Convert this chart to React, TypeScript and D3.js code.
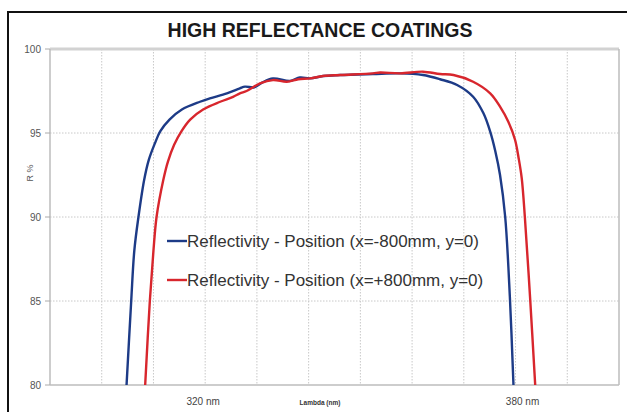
import React, { useEffect, useRef } from 'react';
import * as d3 from 'd3';

const wavelengthsNeg = [304.8, 305.7, 306.3, 307.1, 308.2, 309.1, 310.3, 311.3, 313.1, 315.5, 319.0, 320.9, 324.2, 326.7, 327.7, 329.5, 331.0, 333.1, 336.4, 338.3, 340.3, 342.8, 346.1, 352.4, 357.7, 362.1, 365.4, 368.7, 371.8, 373.8, 375.1, 376.1, 377.0, 378.0, 378.9, 379.6];
const reflNeg = [80, 85, 88, 90, 92.2, 93.4, 94.4, 95.1, 95.8, 96.4, 96.86, 97.06, 97.36, 97.66, 97.76, 97.72, 98.0, 98.25, 98.1, 98.3, 98.25, 98.39, 98.45, 98.51, 98.55, 98.45, 98.2, 97.86, 97.16, 96.17, 95.08, 93.9, 92.5, 90.0, 85.25, 80];

const wavelengthsPos = [308.4, 309.3, 310.0, 310.6, 311.9, 312.8, 314.0, 315.4, 317.1, 319.6, 322.9, 325.4, 326.7, 328.0, 330.6, 333.1, 335.8, 338.0, 340.3, 342.8, 346.1, 352.4, 353.8, 357.7, 362.1, 365.4, 368.0, 371.8, 375.1, 377.0, 378.6, 379.9, 380.6, 381.2, 381.8, 382.8, 383.8];
const reflPos = [80, 85, 88, 90, 92.2, 93.3, 94.3, 95.1, 95.8, 96.4, 96.86, 97.15, 97.36, 97.5, 97.95, 98.15, 98.05, 98.2, 98.25, 98.39, 98.45, 98.55, 98.6, 98.55, 98.65, 98.51, 98.45, 98.05, 97.36, 96.57, 95.67, 94.6, 93.5, 92.3, 90.0, 85.25, 80];

const yTicks = [80, 85, 90, 95, 100];
const xGrid = [300, 310, 320, 330, 340, 350, 360, 370, 380, 390];
const xLabels = [320, 380];
const seriesNames = ['Reflectivity - Position (x=-800mm, y=0)', 'Reflectivity - Position (x=+800mm, y=0)'];
const seriesColors = ['#1d3b87', '#d8262d'];

export default function App() {
  const svgRef = useRef<SVGSVGElement>(null);

  useEffect(() => {
    if (!svgRef.current) return;
    const width = 627;
    const height = 412;
    const left = 50, right = 619, top = 49, bottom = 385;
    const font = 'Liberation Sans, Arial, sans-serif';

    const svg = d3.select(svgRef.current);
    svg.selectAll('*').remove();

    svg.append('rect').attr('width', width).attr('height', height).attr('fill', '#fff');

    // outer black frame (runs off the right / bottom edge)
    svg.append('rect')
      .attr('x', 8).attr('y', 12).attr('width', 640).attr('height', 420)
      .attr('fill', 'none').attr('stroke', '#111').attr('stroke-width', 2);

    svg.append('text')
      .attr('x', 320).attr('y', 37)
      .attr('text-anchor', 'middle')
      .attr('font-family', font)
      .attr('font-weight', 'bold')
      .attr('font-size', 19.5)
      .attr('fill', '#1a1a1a')
      .text('HIGH REFLECTANCE COATINGS');

    const x = d3.scaleLinear().domain([290, 400]).range([left, right]);
    const y = d3.scaleLinear().domain([80, 100]).range([bottom, top]);

    // gridlines
    const grid = svg.append('g').attr('stroke', '#c8c8c8').attr('stroke-width', 1).attr('stroke-dasharray', '1.5,1.5');
    grid.selectAll('line.v').data(xGrid).join('line')
      .attr('x1', d => x(d)).attr('x2', d => x(d)).attr('y1', top).attr('y2', bottom);
    grid.selectAll('line.h').data(yTicks.filter(t => t > 80 && t < 100)).join('line')
      .attr('x1', left).attr('x2', right).attr('y1', d => y(d)).attr('y2', d => y(d));

    // plot border
    svg.append('line').attr('x1', left).attr('x2', right).attr('y1', top).attr('y2', top)
      .attr('stroke', '#d2d2d2').attr('stroke-width', 3);
    svg.append('line').attr('x1', right).attr('x2', right).attr('y1', top).attr('y2', bottom)
      .attr('stroke', '#bdbdbd').attr('stroke-width', 1.5);
    svg.append('line').attr('x1', left).attr('x2', right).attr('y1', bottom).attr('y2', bottom)
      .attr('stroke', '#bdbdbd').attr('stroke-width', 1.5);
    svg.append('line').attr('x1', left).attr('x2', left).attr('y1', top).attr('y2', bottom)
      .attr('stroke', '#bdbdbd').attr('stroke-width', 1.5);

    // y ticks
    const yt = svg.append('g');
    yt.selectAll('line').data(yTicks).join('line')
      .attr('x1', left - 5).attr('x2', left).attr('y1', d => y(d)).attr('y2', d => y(d))
      .attr('stroke', '#aaa');
    yt.selectAll('text').data(yTicks).join('text')
      .attr('x', left - 9).attr('y', d => y(d) + 3.5)
      .attr('text-anchor', 'end')
      .attr('font-family', font)
      .attr('font-size', 10).attr('fill', '#555')
      .text(d => d);

    svg.append('text')
      .attr('transform', `translate(33,${(y(95) + y(90)) / 2 - 2}) rotate(-90)`)
      .attr('text-anchor', 'middle')
      .attr('font-family', font)
      .attr('font-size', 9).attr('fill', '#555')
      .text('R %');

    // x labels
    svg.selectAll('text.xl').data(xLabels).join('text')
      .attr('class', 'xl')
      .attr('x', d => x(d) + (d === 380 ? 7 : -2)).attr('y', 405)
      .attr('text-anchor', 'middle')
      .attr('font-family', font)
      .attr('font-size', 10).attr('fill', '#444')
      .text(d => `${d} nm`);

    svg.append('text')
      .attr('x', 320).attr('y', 405)
      .attr('text-anchor', 'middle')
      .attr('font-family', font)
      .attr('font-weight', 'bold')
      .attr('font-size', 6.5).attr('fill', '#333')
      .text('Lambda (nm)');

    // curves
    const line = d3.line<[number, number]>()
      .x(d => x(d[0])).y(d => y(d[1]))
      .curve(d3.curveCatmullRom.alpha(0.5));
    const series: [number, number][][] = [
      wavelengthsNeg.map((w, i) => [w, reflNeg[i]]),
      wavelengthsPos.map((w, i) => [w, reflPos[i]]),
    ];
    [0, 1].forEach(i => {
      svg.append('path')
        .datum(series[i])
        .attr('fill', 'none')
        .attr('stroke', seriesColors[i])
        .attr('stroke-width', 2.4)
        .attr('stroke-linejoin', 'round')
        .attr('d', line);
    });

    // legend
    const lg = svg.append('g');
    [241, 280].forEach((ly, i) => {
      lg.append('line').attr('x1', 167).attr('x2', 187).attr('y1', ly).attr('y2', ly)
        .attr('stroke', seriesColors[i]).attr('stroke-width', 2.4);
      lg.append('text')
        .attr('x', 187).attr('y', ly + 6)
        .attr('font-family', font)
        .attr('font-size', 17).attr('fill', '#333')
        .text(seriesNames[i]);
    });
  }, []);

  return (
    <div style={{ position: 'absolute', left: 0, top: 0 }}>
      <svg ref={svgRef} width={627} height={412} style={{ display: 'block' }} />
    </div>
  );
}
